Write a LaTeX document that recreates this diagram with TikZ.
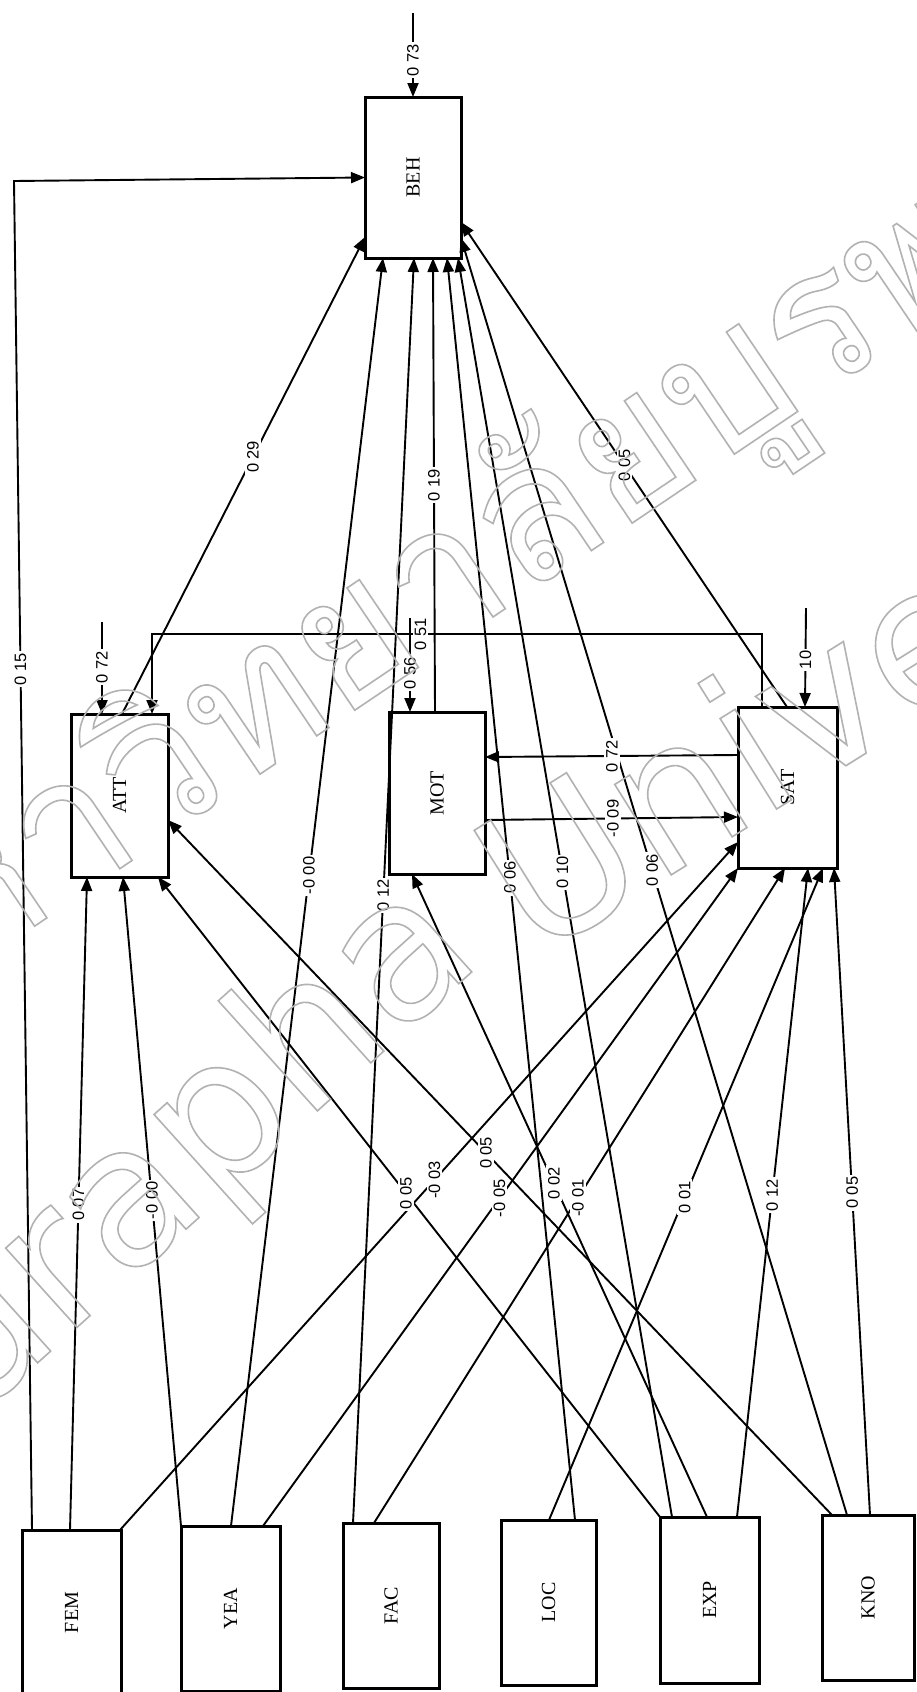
\documentclass[tikz,border=0pt]{standalone}
\usepackage{fontspec}
\setmainfont{Liberation Serif}
\newfontfamily\numfont{Liberation Sans}
\newfontfamily\wmfont{DejaVu Sans}
\newfontfamily\thaifont[Script=Thai]{Loma}
\usetikzlibrary{arrows.meta}
\newcommand{\outlinetext}[1]{\special{pdf:literal direct 1 Tr 1.6 w}#1\special{pdf:literal direct 0 Tr}}
\begin{document}
\begin{tikzpicture}[x=1pt,y=-1pt,
  box/.style={draw, line width=3pt, inner sep=0pt, outer sep=0pt, font=\fontsize{20}{21}\selectfont},
  conn/.style={line width=1.9pt, -{Triangle[length=14pt,width=11pt]}},
  lab/.style={fill=white, inner sep=1.8pt, rotate=90, font=\numfont\fontsize{16.5}{17}\selectfont},
  wm/.style={text=black!30, inner sep=0pt},
]
\useasboundingbox (0,0) rectangle (916,1692);
\fill[white] (0,0) rectangle (916,1692);

% boxes
\node[box, minimum width=96pt, minimum height=161pt] (BEH) at (413,177.5) {\rotatebox{90}{BEH}};
\node[box, minimum width=97pt, minimum height=163pt] (ATT) at (119.5,795.5) {\rotatebox{90}{ATT}};
\node[box, minimum width=96pt, minimum height=162pt] (MOT) at (437,793) {\rotatebox{90}{MOT}};
\node[box, minimum width=99pt, minimum height=161pt] (SAT) at (787.5,787.5) {\rotatebox{90}{SAT}};
\node[box, minimum width=99pt, minimum height=165pt] (FEM) at (71.5,1612.5) {\rotatebox{90}{FEM}};
\node[box, minimum width=99pt, minimum height=165pt] (YEA) at (230.5,1608.5) {\rotatebox{90}{YEA}};
\node[box, minimum width=96pt, minimum height=165pt] (FAC) at (391,1605.5) {\rotatebox{90}{FAC}};
\node[box, minimum width=95pt, minimum height=165pt] (LOC) at (548.5,1602.5) {\rotatebox{90}{LOC}};
\node[box, minimum width=99pt, minimum height=166pt] (EXP) at (709.5,1600) {\rotatebox{90}{EXP}};
\node[box, minimum width=92pt, minimum height=165pt] (KNO) at (868,1597.5) {\rotatebox{90}{KNO}};

% free ends
\coordinate (eBEH) at (413,13);
\coordinate (eATT) at (102,622);
\coordinate (eMOT) at (410,618);
\coordinate (eSAT) at (806,608);
\coordinate (c15) at (14,181);

% FEM
\draw[conn] ([xshift=10pt]FEM.north west) -- node[lab,pos=0.638]{0 15} (c15) -- (BEH.west);
\draw[conn] ([xshift=48pt]FEM.north west) -- node[lab,pos=0.498]{0 07} ([xshift=16pt]ATT.south west);
\draw[conn] ([xshift=-1pt]FEM.north east) -- node[lab,pos=0.509]{-0 03} ([yshift=26pt]SAT.south west);
% YEA
\draw[conn] (YEA.north west) -- node[lab,pos=0.502]{-0 00} ([xshift=52pt]ATT.south west);
\draw[conn] ([xshift=50pt]YEA.north west) -- node[lab,pos=0.513]{-0 00} ([xshift=18pt]BEH.south west);
\draw[conn] ([xshift=82pt]YEA.north west) -- node[lab,pos=0.498]{-0 05} (SAT.south west);
% FAC
\draw[conn] ([xshift=10pt]FAC.north west) -- node[lab,pos=0.496]{0 12} ([xshift=49pt]BEH.south west);
\draw[conn] ([xshift=31pt]FAC.north west) -- node[lab,pos=0.496]{-0 01} ([xshift=47pt]SAT.south west);
% LOC
\draw[conn] ([xshift=74pt]LOC.north west) -- node[lab,pos=0.509]{0 06} ([xshift=82pt]BEH.south west);
\draw[conn] ([xshift=48pt]LOC.north west) -- node[lab,pos=0.495]{0 01} ([xshift=85pt]SAT.south west);
% EXP
\draw[conn] (EXP.north west) -- node[lab,pos=0.506]{0 05} ([xshift=87pt]ATT.south west);
\draw[conn] ([xshift=12pt]EXP.north west) -- node[lab,pos=0.512]{0 10} ([xshift=-3pt]BEH.south east);
\draw[conn] ([xshift=47pt]EXP.north west) -- node[lab,pos=0.519]{0 02} ([xshift=23pt]MOT.south west);
\draw[conn] ([xshift=77pt]EXP.north west) -- node[lab,pos=0.496]{0 12} ([xshift=70pt]SAT.south west);
% KNO
\draw[conn] ([xshift=10pt]KNO.north west) -- node[lab,pos=0.521]{0 05} ([yshift=57pt]ATT.south east);
\draw[conn] ([xshift=25pt]KNO.north west) -- node[lab,pos=0.505]{0 06} ([yshift=20pt]BEH.south east);
\draw[conn] ([xshift=48pt]KNO.north west) -- node[lab,pos=0.498]{0 05} ([xshift=-3pt]SAT.south east);
% endogenous
\draw[conn] ([xshift=51pt]ATT.north west) -- node[lab,pos=0.539]{0 29} ([yshift=21pt]BEH.south west);
\draw[conn] ([xshift=46pt]MOT.north west) -- node[lab,pos=0.5]{0 19} ([xshift=68pt]BEH.south west);
\draw[conn] ([xshift=49pt]SAT.north west) -- node[lab,pos=0.499]{0 05} ([yshift=36pt]BEH.south east);
\draw[conn] ([yshift=113pt]SAT.south west) -- node[lab,pos=0.498]{0 72} ([yshift=117pt]MOT.south east);
\draw[conn] ([yshift=54pt]MOT.south east) -- node[lab,pos=0.506]{-0 09} ([yshift=51pt]SAT.south west);
\draw[conn] ([xshift=24pt]SAT.north west) -- ++(0,-73) -| node[lab,pos=0.28]{0 51} ([xshift=81pt]ATT.north west);
% disturbances
\draw[conn] (eBEH) -- node[lab,pos=0.56]{0 73} (BEH.north);
\draw[conn] (eATT) -- node[lab,pos=0.49]{0 72} ([xshift=31pt]ATT.north west);
\draw[conn] (eMOT) -- node[lab,pos=0.585]{0 56} ([xshift=21pt]MOT.north west);
\draw[conn] (eSAT) -- node[lab,pos=0.525]{10} ([xshift=67pt]SAT.north west);

% watermark (scan stamp, outlined)
\node[wm, rotate=42, anchor=base east, font=\wmfont\fontsize{195}{200}\selectfont] (wmEN1) at (485,960) {\outlinetext{Burapha}};
\node[wm, rotate=32, anchor=base west, font=\wmfont\fontsize{195}{200}\selectfont] (wmEN2) at (535,960) {\outlinetext{University}};
\node[wm, rotate=34, anchor=base east, font=\thaifont\fontsize{190}{200}\selectfont] (wmTH) at (1086,217) {\outlinetext{มหาวิทยาลัยบูรพา}};
\end{tikzpicture}
\end{document}
